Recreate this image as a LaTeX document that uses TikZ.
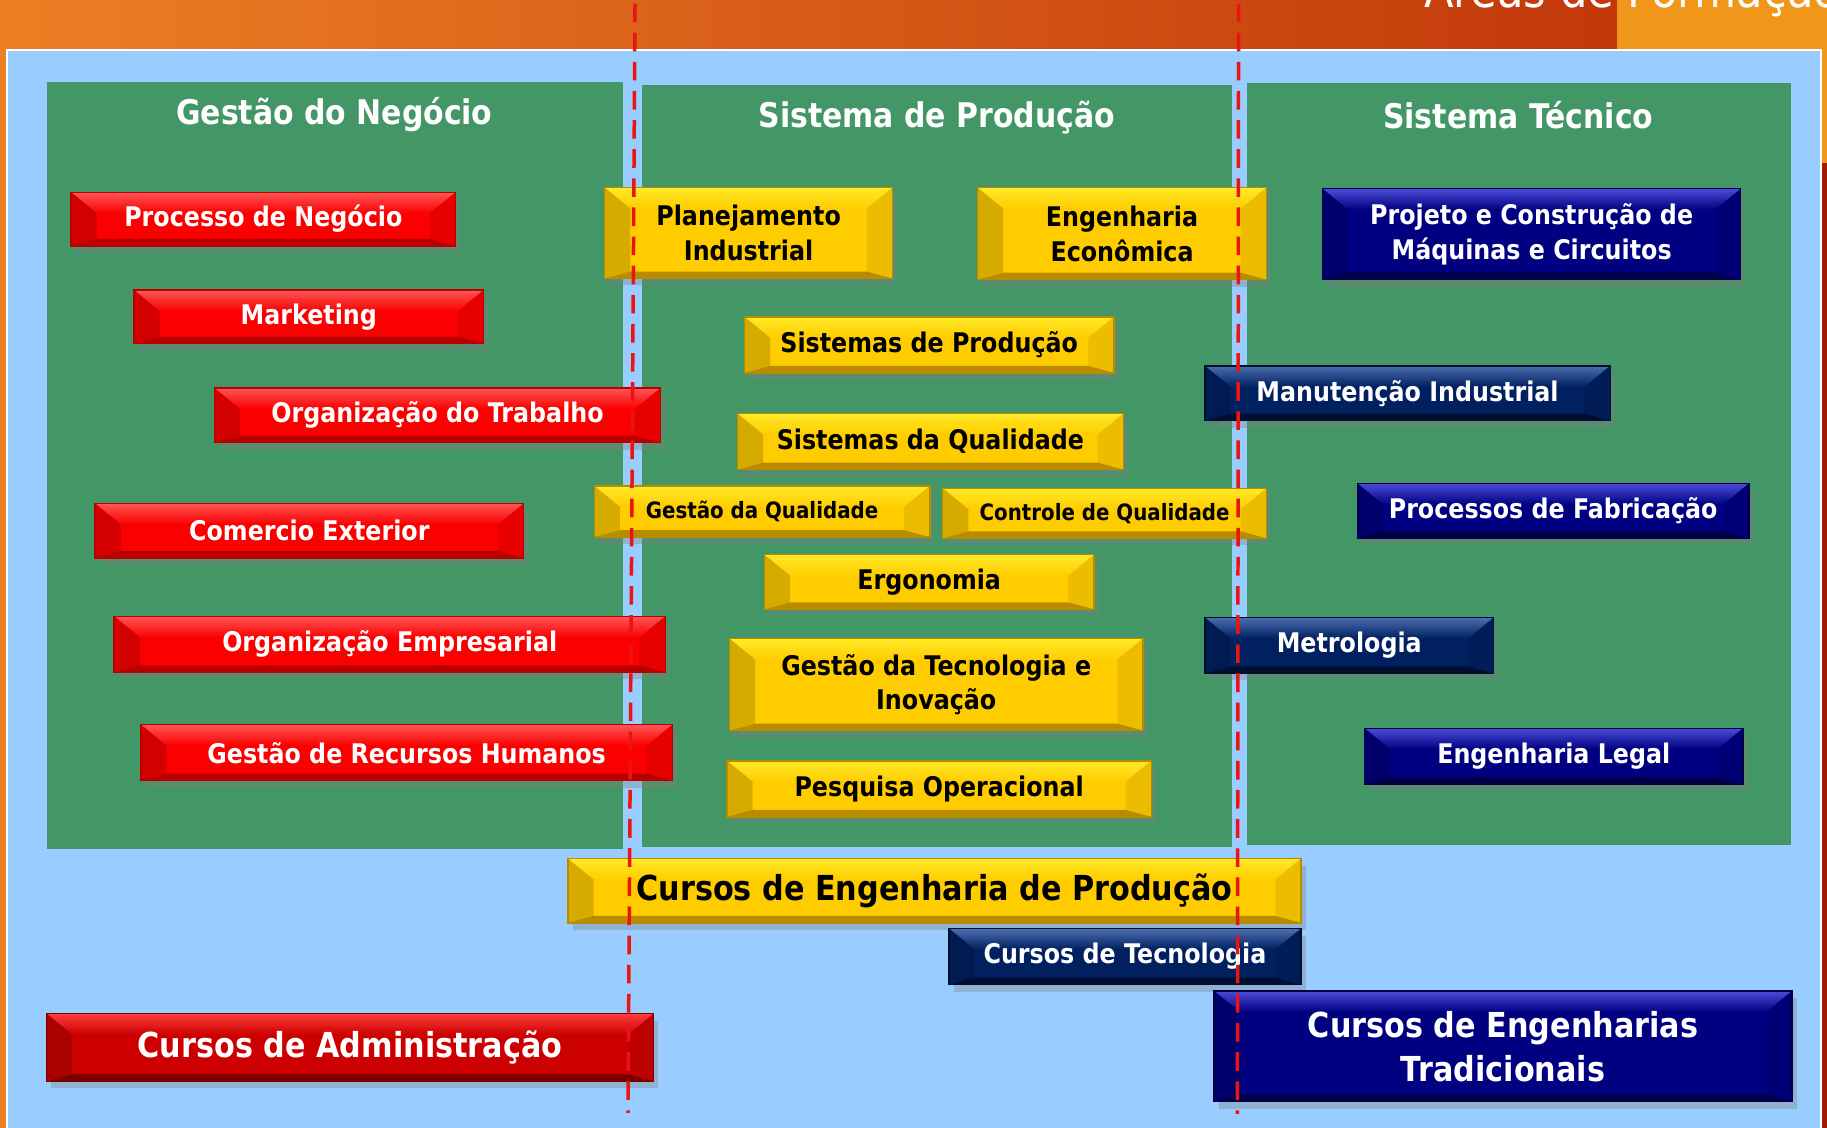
\documentclass[tikz,border=0pt]{standalone}
\usepackage{fontspec}
\setmainfont{DejaVu Sans}[FakeStretch=0.88]
\usetikzlibrary{calc,shadows}

\definecolor{bandL}{RGB}{236,128,36}
\definecolor{bandR}{RGB}{194,56,10}
\definecolor{bandO}{RGB}{240,150,26}
\definecolor{bandD}{RGB}{160,28,5}
\definecolor{sky}{RGB}{153,204,255}
\definecolor{panel}{RGB}{67,150,102}
\definecolor{sepred}{RGB}{235,20,20}

\definecolor{boxred}{RGB}{250,0,0}
\definecolor{boxredl}{RGB}{255,85,85}
\definecolor{boxredd}{RGB}{185,0,0}
\definecolor{boxyel}{RGB}{255,204,0}
\definecolor{boxyell}{RGB}{255,234,40}
\definecolor{boxyeld}{RGB}{185,140,0}
\definecolor{boxnavy}{RGB}{0,0,128}
\definecolor{boxnavyl}{RGB}{75,75,215}
\definecolor{boxnavyd}{RGB}{0,0,70}
\definecolor{boxdblue}{RGB}{0,32,96}
\definecolor{boxdbluel}{RGB}{75,110,175}
\definecolor{boxdblued}{RGB}{0,14,50}
\definecolor{boxdred}{RGB}{204,0,0}
\definecolor{boxdredl}{RGB}{255,60,60}
\definecolor{boxdredd}{RGB}{120,0,0}

\begin{document}
\begin{tikzpicture}[x=0.1mm,y=-0.1mm,
  bev/.style={draw=#1d, line width=0.12mm, fill=#1, inner sep=0pt, align=center,
    drop shadow={shadow xshift=0.4mm,shadow yshift=-0.6mm,opacity=0.35},
    path picture={
      \coordinate (bnw) at (path picture bounding box.north west);
      \coordinate (bne) at (path picture bounding box.north east);
      \coordinate (bsw) at (path picture bounding box.south west);
      \coordinate (bse) at (path picture bounding box.south east);
      \coordinate (inw) at ($(bnw)+(2.2mm,-1.8mm)$);
      \coordinate (ine) at ($(bne)+(-2.2mm,-1.8mm)$);
      \coordinate (isw) at ($(bsw)+(2.2mm,0.6mm)$);
      \coordinate (ise) at ($(bse)+(-2.2mm,0.6mm)$);
      \shade[top color=#1l, bottom color=#1] (bnw) -- (bne) -- (ine) -- (inw) -- cycle;
      \fill[#1!84!black] (bnw) -- (inw) -- (isw) -- (bsw) -- cycle;
      \fill[#1!92!black] (bne) -- (ine) -- (ise) -- (bse) -- cycle;
      \fill[#1d] (bsw) -- (isw) -- (ise) -- (bse) -- cycle;
    }},
  txt/.style={font=\bfseries\fontsize{6.6}{8.5}\selectfont},
  small/.style={font=\bfseries\fontsize{5.5}{7}\selectfont},
  big/.style={font=\bfseries\fontsize{8.4}{10.8}\selectfont},
  redbox/.style={bev=boxred, text=white, txt},
  yelbox/.style={bev=boxyel, text=black, txt},
  navybox/.style={bev=boxnavy, text=white, txt},
  dbluebox/.style={bev=boxdblue, text=white, txt},
  dredbox/.style={bev=boxdred, text=white, big},
  hdr/.style={text=white, font=\bfseries\fontsize{8.3}{10}\selectfont},
  sep/.style={draw=sepred, line width=0.3mm, dash pattern=on 1.6mm off 0.9mm}]

\useasboundingbox (0,0) rectangle (1568,968);

% background
\shade[left color=bandL, right color=bandR] (0,0) rectangle (1388,968);
\fill[bandO] (1388,0) rectangle (1568,140);
\fill[bandD] (1388,140) rectangle (1568,968);
\node[text=white, anchor=base west, font=\fontsize{12}{14}\selectfont] (title) at (1210,6) {Áreas de Formação};
\filldraw[fill=sky, draw=white, line width=0.15mm] (6,43) rectangle (1563,980);

% panels
\fill[panel] (40,70) rectangle (535,729);
\fill[panel] (551,73) rectangle (1057,727);
\fill[panel] (1070,71) rectangle (1537,725);
\node[hdr] (hgn) at (287,98)  {Gestão do Negócio};
\node[hdr] (hsp) at (804,101) {Sistema de Produção};
\node[hdr] (hst) at (1303,99) {Sistema Técnico};

% gestao do negocio
\node[redbox, minimum width=33mm,   minimum height=4.6mm] (pn) at (226,188)   {Processo de Negócio};
\node[redbox, minimum width=30mm,   minimum height=4.6mm] (mk) at (265,272)   {Marketing};
\node[redbox, minimum width=38.3mm, minimum height=4.7mm] (ot) at (375.5,356.5) {Organização do Trabalho};
\node[redbox, minimum width=36.8mm, minimum height=4.7mm] (ce) at (265.5,455.5) {Comercio Exterior};
\node[redbox, minimum width=47.3mm, minimum height=4.8mm] (oe) at (334.5,553) {Organização Empresarial};
\node[redbox, minimum width=45.6mm, minimum height=4.8mm] (rh) at (349,646)   {Gestão de Recursos Humanos};

% sistema de producao
\node[yelbox, minimum width=24.7mm, minimum height=7.8mm] (pi)  at (642.5,200) {Planejamento\\Industrial};
\node[yelbox, minimum width=24.8mm, minimum height=7.9mm] (ee)  at (963,200.5) {Engenharia\\Econômica};
\node[yelbox, minimum width=31.7mm, minimum height=4.8mm] (spd) at (797.5,296) {Sistemas de Produção};
\node[yelbox, minimum width=33.1mm, minimum height=4.8mm] (sq)  at (798.5,379) {Sistemas da Qualidade};
\node[yelbox, small, minimum width=28.8mm, minimum height=4.4mm] (gq) at (654,439)   {Gestão da Qualidade};
\node[yelbox, small, minimum width=27.8mm, minimum height=4.3mm] (cq) at (948,440.5) {Controle de Qualidade};
\node[yelbox, minimum width=28.3mm, minimum height=4.7mm] (er)  at (797.5,499.5) {Ergonomia};
\node[yelbox, minimum width=35.5mm, minimum height=7.9mm] (gt)  at (803.5,587.5) {Gestão da Tecnologia e\\Inovação};
\node[yelbox, minimum width=36.4mm, minimum height=4.8mm] (po)  at (806,677)   {Pesquisa Operacional};

% sistema tecnico
\node[navybox,  minimum width=35.9mm, minimum height=7.8mm] (pc) at (1314.5,201) {Projeto e Construção de\\Máquinas e Circuitos};
\node[dbluebox, minimum width=34.8mm, minimum height=4.7mm] (mi) at (1208,337.5)  {Manutenção Industrial};
\node[navybox,  minimum width=33.6mm, minimum height=4.7mm] (pf) at (1333,438.5)  {Processos de Fabricação};
\node[dbluebox, minimum width=24.8mm, minimum height=4.8mm] (mt) at (1158,554)    {Metrologia};
\node[navybox,  minimum width=32.5mm, minimum height=4.8mm] (el) at (1333.5,649)  {Engenharia Legal};

% cursos
\node[yelbox, big, minimum width=62.9mm, minimum height=5.5mm] (cep) at (802,764.5) {Cursos de Engenharia de Produção};
\node[dbluebox, minimum width=30.2mm, minimum height=4.8mm] (ct) at (965.5,821) {Cursos de Tecnologia};
\node[dredbox, minimum width=52.1mm, minimum height=5.8mm] (ca) at (300.5,899) {Cursos de Administração};
\node[navybox, big, minimum width=49.6mm, minimum height=9.5mm] (cet) at (1290,898) {Cursos de Engenharias\\Tradicionais};

% divisorias
\coordinate (s1t) at (545,3);  \coordinate (s1b) at (539,955);
\coordinate (s2t) at (1063,3); \coordinate (s2b) at (1062,956);
\draw[sep] (s1t) -- (s1b);
\draw[sep] (s2t) -- (s2b);
\end{tikzpicture}
\end{document}
